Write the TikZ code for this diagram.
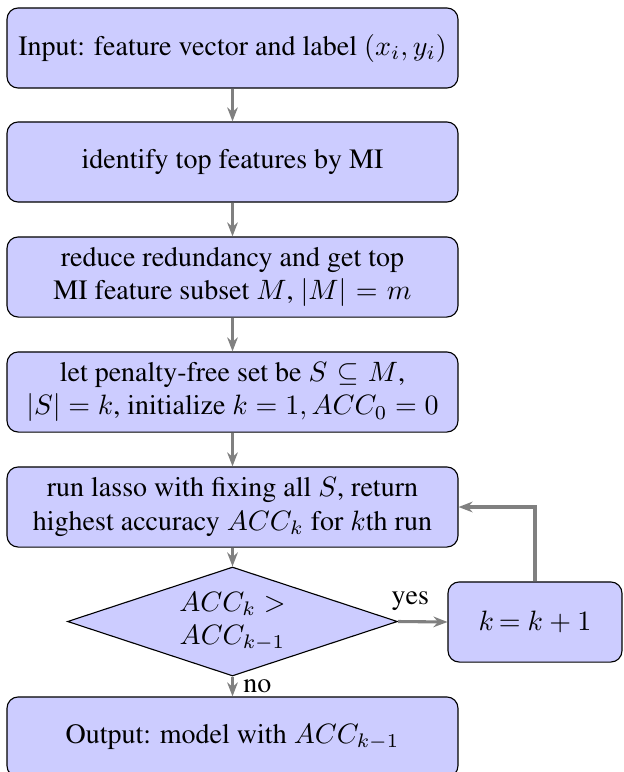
\documentclass[tikz,border=0pt]{standalone}
\usepackage[T1]{fontenc}
\usepackage{times}
\usetikzlibrary{shapes.geometric,arrows.meta}
\begin{document}
\begin{tikzpicture}[x=0.357pt,y=-0.357pt,
  every node/.style={font=\rmfamily\fontsize{10}{12}\selectfont},
  box/.style={draw=black, fill=blue!20, rounded corners=4pt, minimum width=161pt,
    minimum height=28.6pt, align=center, inner sep=2pt},
  kbox/.style={box, minimum width=62.1pt},
  decision/.style={draw=black, fill=blue!20, diamond, minimum width=117.8pt,
    minimum height=38.9pt, inner sep=0pt},
  conn/.style={draw=gray, line width=1.1pt, -{Stealth[length=5pt,width=3.8pt]}}]
\useasboundingbox (0,0) rectangle (623,772);
\node[box] (b1) at (232.5,48) {Input: feature vector and label $(x_i, y_i)$};
\node[box] (b2) at (232.5,162) {identify top features by MI};
\node[box] (b3) at (232.5,277) {reduce redundancy and get top\\MI feature subset $M$, $|M|$\,\,$=$\,\,$m$};
\node[box] (b4) at (232.5,392) {let penalty-free set be $S$\,\,$\subseteq$\,\,$M$,\\$|S| = k$, initialize $k=1, ACC_0=0$};
\node[box] (b5) at (232.5,507) {run lasso with fixing all $S$, return\\highest accuracy $ACC_k$ for $k$th run};
\node[decision] (d) at (232.5,621.5) {};
\node[align=center] (dt) at (d.center) {$ACC_k >$\\$ACC_{k-1}$};
\node[kbox] (k) at (535,622) {$k$\,$=$ $k+1$};
\node[box] (out) at (232.5,737) {Output: model with $ACC_{k-1}$};
\draw[conn] (b1) -- (b2);
\draw[conn] (b2) -- (b3);
\draw[conn] (b3) -- (b4);
\draw[conn] (b4) -- (b5);
\draw[conn] (b5) -- (d);
\draw[conn] (d.east) -- node[above, pos=0.25] {yes} (k.west);
\draw[conn] (k.north) |- (b5.east);
\draw[conn] (d.south) -- node[right] {no} (out.north);
\end{tikzpicture}
\end{document}
